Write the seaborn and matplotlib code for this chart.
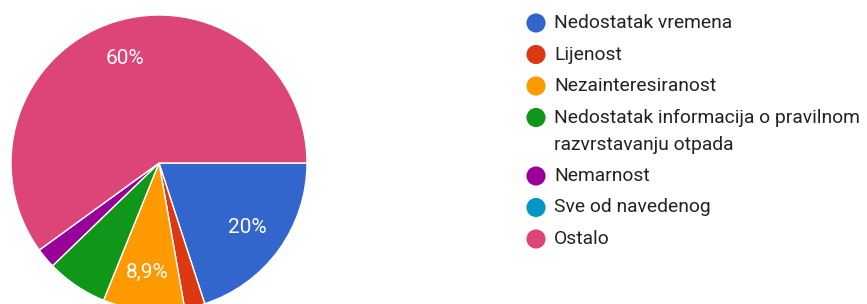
import matplotlib
matplotlib.use("Agg")
import matplotlib.pyplot as plt
import seaborn as sns

categories = [
    "Nedostatak vremena",
    "Lijenost",
    "Nezainteresiranost",
    "Nedostatak informacija o pravilnom\nrazvrstavanju otpada",
    "Nemarnost",
    "Sve od navedenog",
    "Ostalo",
]
counts = [9, 1, 4, 3, 1, 0, 27]
colors = ["#3366CC", "#DC3912", "#FF9900", "#109618", "#990099", "#0099C6", "#DD4477"]

sns.set_theme(style="white")
plt.rcParams["font.family"] = ["Roboto", "DejaVu Sans"]

W, H = 867, 304
fig = plt.figure(figsize=(W / 100, H / 100), dpi=100)

cx, cy, r = 159, 163, 148
ax = fig.add_axes([(cx - r) / W, (H - cy - r) / H, 2 * r / W, 2 * r / H])


def fmt(p):
    if p < 7.5:
        return ""
    s = f"{p:.1f}"
    if s.endswith(".0"):
        s = s[:-2]
    return s.replace(".", ",") + "%"


wedges, texts, autotexts = ax.pie(
    counts,
    colors=sns.color_palette(colors),
    startangle=0,
    counterclock=False,
    autopct=fmt,
    pctdistance=0.74,
    wedgeprops=dict(edgecolor="white", linewidth=1.0),
    textprops=dict(color="white", fontsize=15),
)
ax.set_xlim(-1, 1)
ax.set_ylim(-1, 1)
ax.set_aspect("equal")
ax.axis("off")
for w in wedges:
    w.set_clip_on(False)

# legend
lax = fig.add_axes([0, 0, 1, 1])
lax.set_xlim(0, W)
lax.set_ylim(H, 0)
lax.axis("off")
fs = 13.9
y = 23
for cat, col in zip(categories, colors):
    lax.scatter([536], [y], s=190, color=col, edgecolor="none")
    lines = cat.split("\n")
    for i, line in enumerate(lines):
        lax.text(554, y + 27 * i, line, va="center", ha="left", fontsize=fs, color="#222222")
    y += 27 * (len(lines) - 1) + 31.5

fig.savefig("out.png", dpi=100)
